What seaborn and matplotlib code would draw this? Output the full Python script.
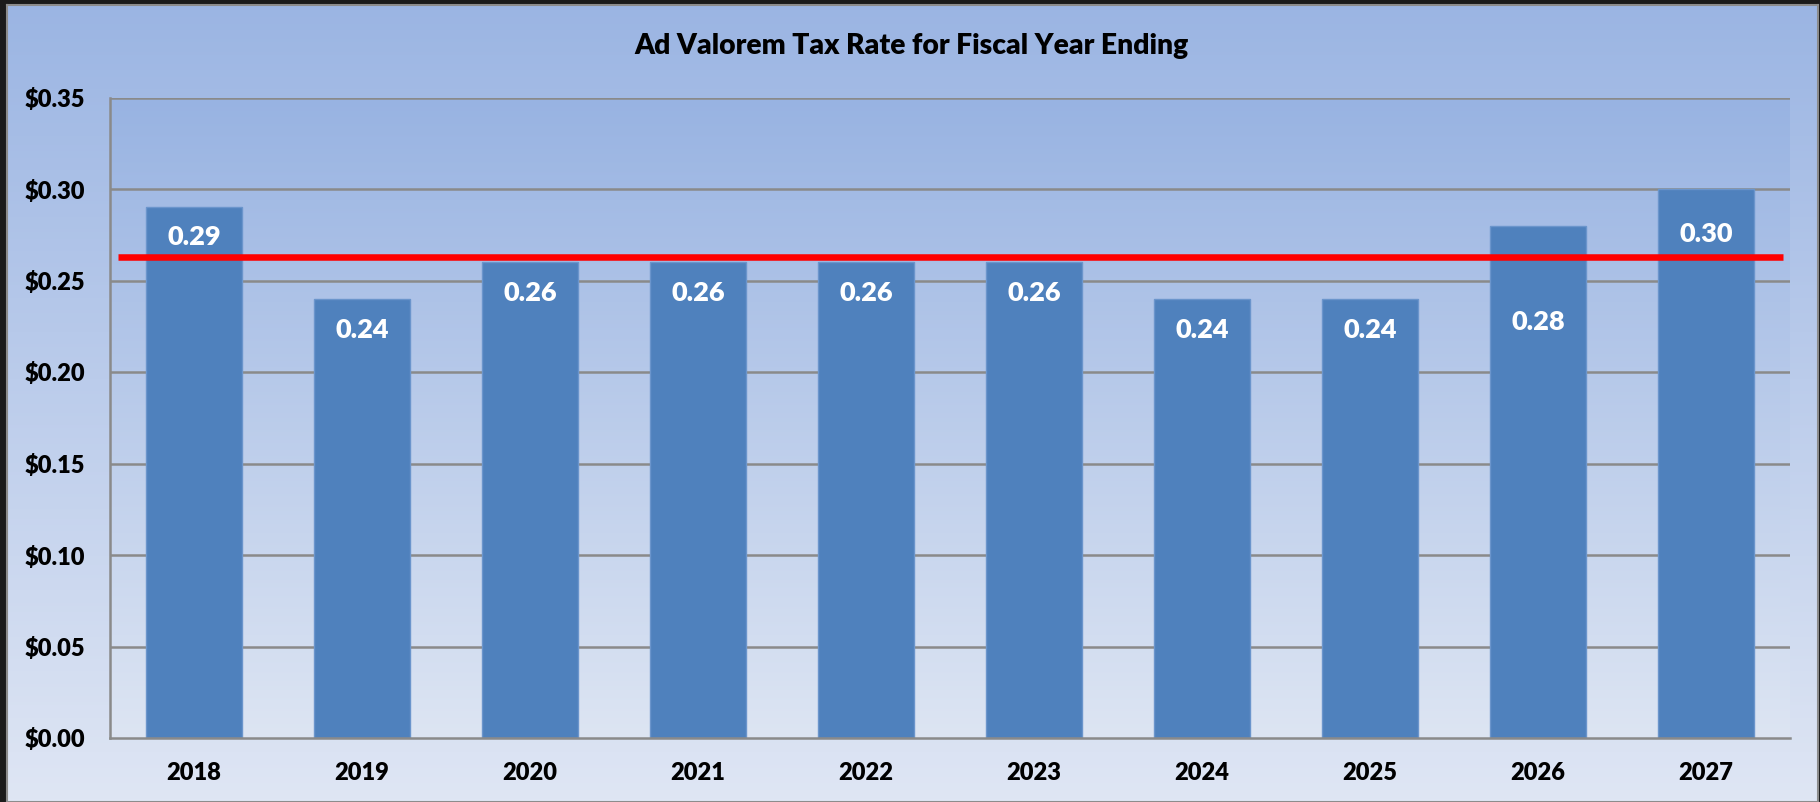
import numpy as np
import pandas as pd
import matplotlib
matplotlib.use("Agg")
import matplotlib.pyplot as plt
from matplotlib.colors import LinearSegmentedColormap
import seaborn as sns

# Ad valorem tax rate by fiscal year ending
years = ["2018", "2019", "2020", "2021", "2022", "2023", "2024", "2025", "2026", "2027"]
rates = [0.29, 0.24, 0.26, 0.26, 0.26, 0.26, 0.24, 0.24, 0.28, 0.30]
y_ticks = [0.00, 0.05, 0.10, 0.15, 0.20, 0.25, 0.30, 0.35]
title = "Ad Valorem Tax Rate for Fiscal Year Ending"

# vertical shift (pixels below bar top) of each value label
label_shift = [30, 31, 31, 31, 31, 31, 31, 31, 96, 45]

df = pd.DataFrame({"year": years, "rate": rates})
avg_rate = float(np.mean(rates))

sns.set_theme(style="white")
plt.rcParams["font.family"] = ["Lato", "DejaVu Sans"]
plt.rcParams["font.weight"] = "bold"

W, H = 1820, 802
fig = plt.figure(figsize=(W / 100, H / 100), dpi=100)
fig.patch.set_facecolor("#1b1b1b")

# chart-area background with a vertical blue gradient
bg = fig.add_axes([7 / W, 0, (1818 - 7) / W, (H - 5) / H], zorder=-10)
bg_cmap = LinearSegmentedColormap.from_list("bg", ["#dfe6f4", "#9bb5e3"])
bg.imshow(np.linspace(0, 1, 256).reshape(-1, 1), cmap=bg_cmap, aspect="auto",
          origin="lower", extent=[0, 1, 0, 1])
bg.set_xlim(0, 1)
bg.set_ylim(0, 1)
bg.set_xticks([])
bg.set_yticks([])
for s in bg.spines.values():
    s.set_color("#8c8c8c")
    s.set_linewidth(1.5)

ax = fig.add_axes([110 / W, (H - 738) / H, (1790 - 110) / W, (738 - 97.5) / H])
ax.set_facecolor("none")

# plot-area gradient
pa_cmap = LinearSegmentedColormap.from_list("pa", ["#dde5f3", "#98b3e2"])
ax.imshow(np.linspace(0, 1, 256).reshape(-1, 1), cmap=pa_cmap, aspect="auto",
          origin="lower", extent=[-0.5, 9.5, 0, 0.35], zorder=0)

sns.barplot(data=df, x="year", y="rate", color="#4f81bd", saturation=1,
            width=0.57, edgecolor="#6b95cc", linewidth=1, ax=ax, zorder=2)

ax.set_xlim(-0.5, 9.5)
ax.set_ylim(0, 0.35)
ax.set_yticks(y_ticks)
ax.set_yticklabels([f"${v:.2f}" for v in y_ticks])
ax.set_xlabel("")
ax.set_ylabel("")

for y in y_ticks[1:]:
    ax.axhline(y, color="#8a8a8a", lw=1.8, zorder=1)

for side in ["top", "right"]:
    ax.spines[side].set_visible(False)
for side in ["left", "bottom"]:
    ax.spines[side].set_visible(True)
    ax.spines[side].set_color("#8a8a8a")
    ax.spines[side].set_linewidth(1.8)

ax.tick_params(axis="y", length=0, pad=18, labelsize=17, labelcolor="black")
ax.tick_params(axis="x", length=0, pad=17, labelsize=17, labelcolor="black")
for lbl in ax.get_xticklabels() + ax.get_yticklabels():
    lbl.set_fontweight("heavy")

# average rate line
ax.hlines(avg_rate, -0.452, 9.46, color="#ff0000", lw=4.7, zorder=4)

# value labels inside the bars
for i, (v, d) in enumerate(zip(rates, label_shift)):
    ax.annotate(f"{v:.2f}", xy=(i, v), xytext=(0, -d), textcoords="offset pixels",
                ha="center", va="center", color="white", fontsize=19.5,
                fontweight="heavy", zorder=5)

fig.text(911 / W, 1 - 46 / H, title, ha="center", va="center",
         fontsize=20.3, fontweight="heavy", color="black")

fig.savefig("out.png", dpi=100, facecolor=fig.get_facecolor())
